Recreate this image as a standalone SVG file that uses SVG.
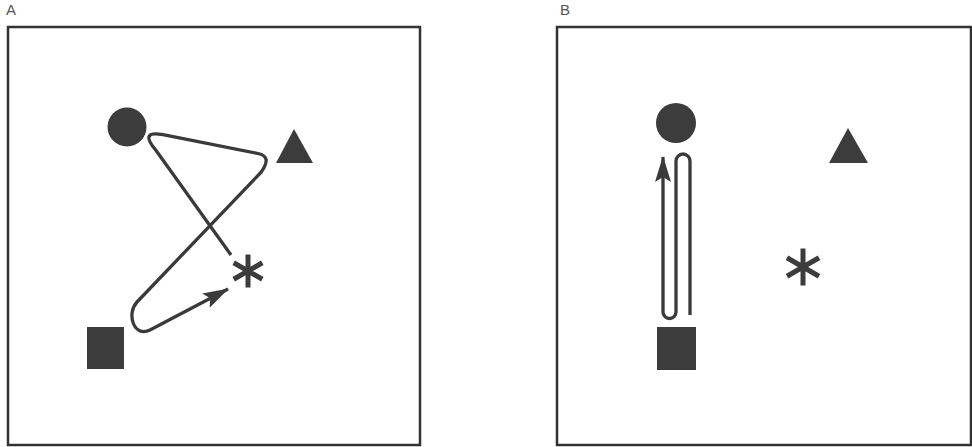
<svg xmlns="http://www.w3.org/2000/svg" width="972" height="447" viewBox="0 0 972 447">
<style>
.frame{fill:none;stroke:#333;stroke-width:2.5}
.shape{fill:#3c3c3c}
.ast{stroke:#3c3c3c;stroke-width:5;stroke-linecap:butt;fill:none}
.route{fill:none;stroke:#3a3a3a;stroke-width:3.3;stroke-linejoin:round}
.lbl{font-family:"Liberation Sans",Arial,sans-serif;font-size:15px;fill:#555}
</style>
<defs>
<marker id="arr" viewBox="0 0 26 16" refX="25" refY="8" markerWidth="26" markerHeight="16" markerUnits="userSpaceOnUse" orient="auto">
<path d="M0,0 L26,8 L0,16 L5,8 z" fill="#3a3a3a"/>
</marker>
</defs>
<rect width="972" height="447" fill="#fff"/>
<text class="lbl" x="6" y="15">A</text>
<text class="lbl" x="560" y="15">B</text>
<g id="panelA">
<rect class="frame" x="8" y="27" width="412" height="418"/>
</g>
<g id="panelB">
<rect class="frame" x="557" y="27" width="414" height="418"/>
</g>
<g id="a-circle"><circle class="shape" cx="127" cy="127" r="19.5"/></g>
<g id="a-triangle"><polygon class="shape" points="294,129 276,163 313,163"/></g>
<g id="a-square"><rect class="shape" x="87" y="327" width="37" height="42"/></g>
<g id="a-star" transform="translate(248,271)">
<path class="ast" d="M0,-16.5 V16.5 M-14.3,-8.25 L14.3,8.25 M-14.3,8.25 L14.3,-8.25"/>
</g>
<g id="b-circle"><circle class="shape" cx="676" cy="123" r="20"/></g>
<g id="b-triangle"><polygon class="shape" points="848,128 829,163 868,163"/></g>
<g id="b-square"><rect class="shape" x="657" y="327" width="39" height="43"/></g>
<g id="b-star" transform="translate(803,267)">
<path class="ast" d="M0,-18.5 V18.5 M-16,-9.25 L16,9.25 M-16,9.25 L16,-9.25"/>
</g>
<g id="connectors">
<path class="route" marker-end="url(#arr)" d="M231,255 L155.7,150 Q139,130 163,134.7 L258,153.5 Q272.4,156.4 261.3,172 L137,302 C126,314 134,338 150,330 L228,289"/>
<path class="route" marker-end="url(#arr)" d="M690,315 L690,161 A6,6 0 0 0 676,161 L676,312 A6.5,6.5 0 0 1 663,312 L663,157"/>
</g>
</svg>
